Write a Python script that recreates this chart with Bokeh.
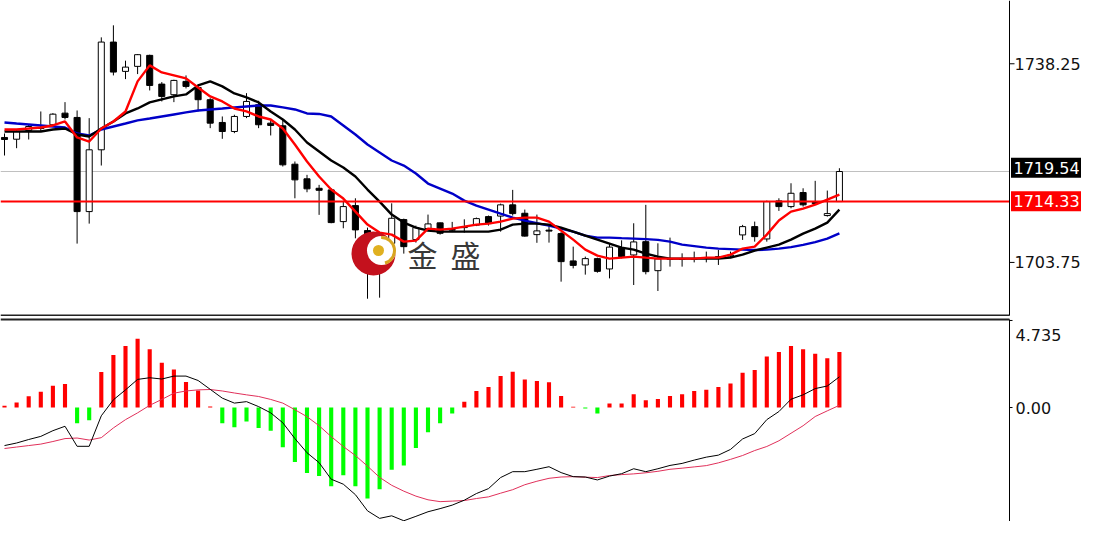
from bokeh.plotting import figure
from bokeh.models import Range1d
from bokeh.layouts import column
from bokeh.embed import file_html
from bokeh.resources import INLINE
from bokeh.core.properties import value

# ---------------- data ----------------
opens = [1725.45, 1725.15, 1726.67, 1727.19, 1727.66, 1729.68, 1728.93, 1712.58, 1723.31, 1742.02,
         1736.93, 1737.80, 1739.71, 1734.72, 1732.88, 1735.19, 1734.14, 1732.01, 1728.06, 1726.49,
         1729.10, 1731.14, 1727.94, 1727.48, 1720.81, 1718.27, 1716.63, 1716.35, 1710.84, 1713.62,
         1709.28, 1705.97, 1707.07, 1711.19, 1707.71, 1709.63, 1710.62, 1709.45, 1709.80, 1710.23,
         1711.71, 1711.80, 1713.75, 1712.29, 1708.58, 1709.36, 1708.76, 1704.01, 1703.31, 1704.41,
         1702.62, 1706.32, 1705.05, 1707.36, 1702.32, 1704.32, 1704.32, 1704.32, 1704.49, 1704.67,
         1704.84, 1708.53, 1709.97, 1707.83, 1714.44, 1713.45, 1715.89, 1714.15, 1711.89, 1714.32]
highs = [1726.15, 1726.84, 1727.71, 1729.97, 1729.68, 1731.59, 1730.14, 1728.81, 1742.84, 1744.93,
         1738.79, 1739.94, 1739.83, 1735.07, 1735.48, 1736.23, 1734.49, 1732.28, 1729.10, 1729.40,
         1733.15, 1731.83, 1728.53, 1728.53, 1721.28, 1718.96, 1717.22, 1716.63, 1714.32, 1714.89,
         1709.80, 1708.76, 1714.02, 1711.36, 1710.15, 1712.06, 1710.67, 1710.79, 1711.24, 1711.54,
         1711.89, 1713.97, 1716.35, 1712.93, 1712.06, 1710.32, 1709.02, 1706.49, 1704.76, 1704.58,
         1707.07, 1707.59, 1710.55, 1713.75, 1707.07, 1708.06, 1705.33, 1705.63, 1705.63, 1705.92,
         1705.63, 1710.27, 1710.84, 1714.49, 1714.89, 1717.50, 1716.63, 1717.92, 1716.23, 1720.11]
lows = [1722.32, 1723.59, 1725.10, 1726.49, 1727.36, 1728.58, 1707.02, 1710.49, 1720.58, 1736.23,
        1735.59, 1736.46, 1733.62, 1731.71, 1731.59, 1733.97, 1729.97, 1727.07, 1725.22, 1726.20,
        1728.81, 1727.07, 1725.80, 1720.41, 1714.89, 1715.94, 1712.01, 1710.55, 1709.68, 1707.94,
        1697.45, 1697.63, 1706.79, 1705.28, 1707.19, 1709.28, 1708.58, 1709.02, 1708.93, 1710.06,
        1710.15, 1709.10, 1711.89, 1708.23, 1707.16, 1707.19, 1700.41, 1702.72, 1701.63, 1701.97,
        1700.98, 1704.46, 1699.83, 1701.68, 1698.79, 1703.02, 1703.02, 1703.76, 1703.76, 1703.31,
        1704.49, 1707.66, 1707.36, 1707.36, 1712.70, 1713.15, 1713.45, 1713.75, 1711.71, 1714.32]
closes = [1725.10, 1726.49, 1727.36, 1727.01, 1729.50, 1728.93, 1712.58, 1723.31, 1742.02, 1736.81,
          1737.67, 1739.83, 1734.49, 1732.58, 1735.36, 1734.32, 1732.01, 1727.94, 1726.49, 1729.10,
          1731.71, 1727.66, 1727.54, 1720.70, 1718.09, 1716.53, 1716.28, 1710.67, 1713.45, 1709.40,
          1707.02, 1707.71, 1711.42, 1706.49, 1709.80, 1710.44, 1708.81, 1709.36, 1709.89, 1711.36,
          1710.49, 1713.75, 1712.23, 1708.32, 1709.23, 1709.19, 1703.89, 1703.24, 1704.41, 1702.20,
          1706.41, 1704.76, 1707.31, 1702.15, 1704.36, 1704.41, 1704.37, 1704.41, 1704.58, 1704.76,
          1705.02, 1709.97, 1708.23, 1714.32, 1713.45, 1715.76, 1713.75, 1713.97, 1712.23, 1719.54]

ma_fast = [1726.84, 1726.84, 1727.01, 1727.19, 1727.54, 1728.23, 1725.45, 1724.75, 1727.01, 1728.23,
           1729.97, 1735.19, 1737.97, 1736.75, 1736.23, 1735.71, 1734.14, 1732.58, 1731.71, 1730.49,
           1729.97, 1729.10, 1728.58, 1727.01, 1724.23, 1721.28, 1718.67, 1716.41, 1714.84, 1712.58,
           1710.32, 1708.93, 1708.58, 1707.36, 1707.54, 1709.63, 1709.45, 1709.63, 1709.97, 1710.32,
           1710.49, 1710.84, 1711.36, 1711.54, 1711.54, 1710.84, 1709.28, 1707.71, 1705.97, 1704.93,
           1704.41, 1704.58, 1704.76, 1704.58, 1704.41, 1704.41, 1704.41, 1704.41, 1704.58, 1704.58,
           1705.10, 1706.15, 1706.49, 1708.58, 1711.02, 1712.58, 1713.10, 1713.80, 1714.67, 1715.54]
ma_mid = [1726.49, 1726.49, 1726.49, 1726.49, 1726.84, 1727.01, 1725.97, 1725.62, 1727.01, 1728.23,
          1729.62, 1730.49, 1731.54, 1732.06, 1732.58, 1732.93, 1734.49, 1735.19, 1734.32, 1733.10,
          1732.41, 1731.54, 1729.97, 1728.58, 1726.84, 1724.58, 1723.02, 1721.45, 1720.23, 1718.67,
          1716.41, 1714.32, 1712.06, 1710.67, 1709.80, 1709.28, 1709.10, 1709.10, 1709.10, 1709.10,
          1709.10, 1709.45, 1710.32, 1710.49, 1710.49, 1710.32, 1709.80, 1709.10, 1708.41, 1707.71,
          1707.02, 1706.32, 1705.97, 1705.28, 1704.76, 1704.41, 1704.41, 1704.41, 1704.41, 1704.41,
          1704.58, 1705.10, 1705.80, 1706.32, 1706.84, 1707.71, 1708.76, 1709.63, 1710.67, 1712.93]
ma_slow = [1728.06, 1727.88, 1727.71, 1727.54, 1727.36, 1727.19, 1726.15, 1725.80, 1726.84, 1727.36,
           1727.88, 1728.41, 1728.75, 1729.10, 1729.45, 1729.80, 1730.14, 1730.32, 1730.49, 1730.67,
           1730.84, 1731.01, 1731.01, 1730.67, 1730.32, 1729.62, 1729.54, 1729.10, 1727.54, 1725.97,
           1724.23, 1722.84, 1721.45, 1720.58, 1719.19, 1717.45, 1716.58, 1715.71, 1714.49, 1713.62,
           1712.93, 1712.23, 1711.54, 1711.02, 1710.55, 1710.15, 1709.63, 1709.10, 1708.41, 1708.06,
           1708.06, 1707.97, 1707.89, 1707.80, 1707.66, 1707.36, 1706.84, 1706.58, 1706.32, 1706.15,
           1706.06, 1705.97, 1705.92, 1705.97, 1706.15, 1706.41, 1706.79, 1707.28, 1707.89, 1708.81]

macd_hist = [0.09, 0.27, 0.61, 0.86, 1.19, 1.28, -0.86, -0.69, 1.93, 2.85,
             3.35, 3.74, 3.17, 2.43, 2.07, 1.39, 0.93, 0.05, -0.86, -1.08,
             -0.76, -1.12, -1.26, -2.16, -2.97, -3.56, -3.73, -4.28, -3.69, -4.28,
             -4.95, -4.44, -3.39, -3.15, -2.20, -1.35, -0.86, -0.32, 0.32, 0.90,
             1.12, 1.71, 1.94, 1.53, 1.44, 1.37, 0.63, 0.04, -0.05, -0.32,
             0.22, 0.22, 0.72, 0.39, 0.47, 0.63, 0.72, 0.90, 0.97, 1.12,
             1.30, 1.89, 2.04, 2.77, 3.02, 3.35, 3.17, 2.93, 2.68, 3.02]
macd_main = [-2.07, -1.93, -1.74, -1.57, -1.26, -1.02, -2.11, -2.11, -0.45, 0.42,
             0.96, 1.53, 1.62, 1.55, 1.71, 1.71, 1.47, 0.99, 0.51, 0.24,
             0.32, 0.05, -0.29, -0.83, -1.69, -2.46, -3.00, -3.90, -4.17, -4.74,
             -5.62, -6.03, -5.89, -6.16, -5.92, -5.67, -5.50, -5.31, -5.04, -4.68,
             -4.41, -3.81, -3.49, -3.49, -3.36, -3.22, -3.54, -3.76, -3.78, -3.94,
             -3.73, -3.60, -3.33, -3.49, -3.33, -3.15, -3.04, -2.86, -2.70, -2.59,
             -2.28, -1.71, -1.42, -0.66, -0.22, 0.45, 0.69, 1.03, 1.17, 1.67]
macd_signal = [-2.23, -2.15, -2.07, -1.99, -1.85, -1.69, -1.66, -1.77, -1.64, -1.11,
               -0.66, -0.29, 0.12, 0.44, 0.78, 0.90, 0.96, 0.98, 0.90, 0.79,
               0.69, 0.60, 0.44, 0.24, -0.12, -0.50, -0.99, -1.58, -2.12, -2.61,
               -3.19, -3.80, -4.23, -4.55, -4.82, -5.02, -5.12, -5.09, -5.06, -4.95,
               -4.86, -4.66, -4.47, -4.20, -4.01, -3.85, -3.78, -3.76, -3.79, -3.81,
               -3.70, -3.65, -3.61, -3.55, -3.47, -3.36, -3.30, -3.23, -3.16, -3.01,
               -2.82, -2.61, -2.34, -2.12, -1.81, -1.40, -0.99, -0.49, -0.18, 0.12]

last_price = 1719.54
level_price = 1714.33
price_ticks = [1703.75, 1738.25]
macd_ticks = [0.0]
macd_max = 4.735
watermark = ["金", "盛"]

# ---------------- geometry (screen layout only) ----------------
FONT = "DejaVu Sans"
FS = "16px"
PX = 12.1                       # pixels per bar slot


def sx(px):                     # screen x -> slot coordinate
    return (px - 4) / PX


n = len(opens)
idx = list(range(n))
x_rng = Range1d(sx(0), sx(1081))
axis_x = sx(1009)
main_y = Range1d(1694.36, 1749.24)
ppu = 316 / (main_y.end - main_y.start)   # pixels per price unit

p = figure(width=1081, height=316, x_range=x_rng, y_range=main_y,
           x_axis_location=None, y_axis_location=None,
           toolbar_location=None, output_backend="svg", min_border=0)
p.outline_line_color = None
p.xgrid.grid_line_color = None
p.ygrid.grid_line_color = None

bottom_line = main_y.start + 1.0 / ppu
# horizontal price line of the last quote (stops at the price scale)
p.segment(x0=[x_rng.start], y0=[last_price], x1=[axis_x], y1=[last_price],
          line_color="#c0c0c0", line_width=1)

# candles
p.segment(x0=idx, y0=lows, x1=idx, y1=highs, line_color="black", line_width=1)
tops = [max(o, c) for o, c in zip(opens, closes)]
bots = [min(o, c) for o, c in zip(opens, closes)]
fills = ["white" if c >= o else "black" for o, c in zip(opens, closes)]
p.vbar(x=idx, width=0.5, top=tops, bottom=bots, fill_color=fills, line_color="black", line_width=1)

# moving averages
p.line(idx, ma_slow, line_color="#0000c8", line_width=2.4)
p.line(idx, ma_mid, line_color="black", line_width=2.4)
p.line(idx, ma_fast, line_color="#ff0000", line_width=2.4)

p.segment(x0=[x_rng.start], y0=[level_price], x1=[axis_x], y1=[level_price],
          line_color="#ff0000", line_width=2)

# watermark logo
p.scatter(x=[sx(373)], y=[1705.30], size=44, marker="circle", fill_color="#c4111d", line_color=None)
p.scatter(x=[sx(381)], y=[1705.82], size=29, marker="circle", fill_color="white", line_color=None)
p.arc(x=[sx(381)], y=[1705.82], radius=13, radius_units="screen", start_angle=-1.3, end_angle=1.6,
      line_color="#d8a520", line_width=3)
p.scatter(x=[sx(378)], y=[1705.82], size=11, marker="circle", fill_color="#e0b020", line_color=None)
p.text(x=[sx(407), sx(450)], y=[1705.13, 1705.13], text=watermark, text_font=value("Noto Sans CJK SC"),
       text_font_size="30px", text_color="#383838", text_baseline="middle", text_align="left")

# panel border + price scale
p.segment(x0=[x_rng.start], y0=[bottom_line], x1=[axis_x], y1=[bottom_line],
          line_color="#222222", line_width=2)
p.segment(x0=[axis_x], y0=[bottom_line], x1=[axis_x], y1=[main_y.end], line_color="black", line_width=1)
p.segment(x0=[axis_x] * len(price_ticks), y0=price_ticks, x1=[sx(1014)] * len(price_ticks), y1=price_ticks,
          line_color="black", line_width=1)
p.text(x=[sx(1014)] * len(price_ticks), y=price_ticks, text=[f"{t:.2f}" for t in price_ticks],
       text_font=value(FONT), text_font_size=FS, text_color="#111111",
       text_baseline="middle", text_align="left")

# current-price and level boxes on the scale
half = 10.0 / ppu
box_centres = [last_price + 3.7 / ppu, level_price + 0.3 / ppu]
p.quad(left=[sx(1010.5)] * 2, right=[x_rng.end] * 2,
       top=[c + half for c in box_centres], bottom=[c - half for c in box_centres],
       fill_color=["black", "#ff0000"], line_color=None)
p.text(x=[sx(1013)] * 2, y=box_centres, text=[f"{last_price:.2f}", f"{level_price:.2f}"],
       text_font=value(FONT), text_font_size=FS, text_color="white",
       text_baseline="middle", text_align="left")

# ---------------- MACD panel ----------------
macd_y = Range1d(-6.2, 4.951)
mppu = 205 / (macd_y.end - macd_y.start)
q = figure(width=1081, height=205, x_range=x_rng, y_range=macd_y,
           x_axis_location=None, y_axis_location=None,
           toolbar_location=None, output_backend="svg", min_border=0)
q.outline_line_color = None
q.xgrid.grid_line_color = None
q.ygrid.grid_line_color = None

top_line = macd_y.end - 3.0 / mppu
q.segment(x0=[x_rng.start], y0=[top_line], x1=[axis_x], y1=[top_line], line_color="#222222", line_width=2)
hcol = ["#ff0000" if v > 0 else "#00ff00" for v in macd_hist]
q.vbar(x=idx, width=0.34, top=macd_hist, bottom=0, fill_color=hcol, line_color=None)
q.line(idx, macd_signal, line_color="#e0305a", line_width=1)
q.line(idx, macd_main, line_color="black", line_width=1)

q.segment(x0=[axis_x], y0=[macd_y.start], x1=[axis_x], y1=[top_line], line_color="black", line_width=1)
q.segment(x0=[axis_x] * 2, y0=macd_ticks + [macd_max], x1=[sx(1012)] * 2, y1=macd_ticks + [macd_max],
          line_color="black", line_width=1)
q.text(x=[sx(1015)] * len(macd_ticks), y=macd_ticks, text=[f"{t:.2f}" for t in macd_ticks],
       text_font=value(FONT), text_font_size=FS, text_color="#111111",
       text_baseline="middle", text_align="left")
# MT4 prints the window maximum just under the top edge
q.text(x=[sx(1015)], y=[macd_max - 15.0 / mppu], text=[f"{macd_max:.3f}"],
       text_font=value(FONT), text_font_size=FS, text_color="#111111",
       text_baseline="middle", text_align="left")

page = column(p, q, spacing=0)
open("out.html", "w").write(file_html(page, INLINE))
